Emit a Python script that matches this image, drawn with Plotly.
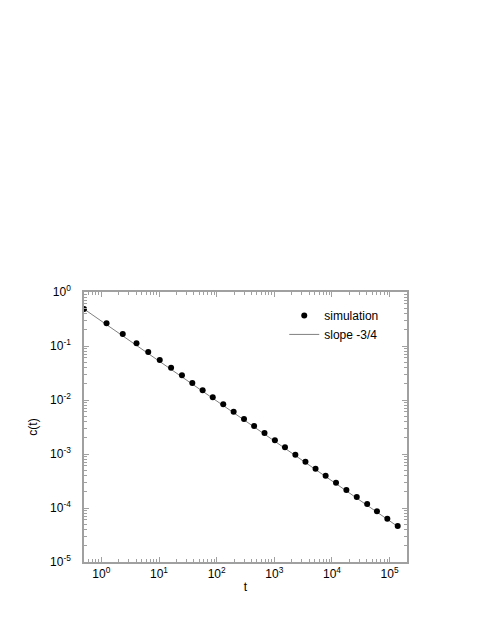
import plotly.graph_objects as go

# simulation data
sim_t = [0.5, 1.23, 2.35, 4.07, 6.5, 10.3, 16.2, 25.0, 37.8, 57.1, 85.5, 130,
         197, 298, 446, 676, 1023, 1531, 2317, 3467, 5188, 7762, 11750,
         17780, 26920, 40740, 60260, 91200, 138000]
sim_c = [0.484, 0.263, 0.167, 0.112, 0.0774, 0.0551, 0.0396, 0.0286, 0.0207,
         0.0151, 0.0112, 0.00832, 0.00607, 0.00445, 0.00330, 0.00245, 0.00179,
         0.00133, 0.000970, 0.000719, 0.000535, 0.000396, 0.000294, 0.000215,
         0.000160, 0.000119, 0.0000869, 0.0000634, 0.0000465]

# slope -3/4 reference line endpoints
line_t = [0.5, 142000]
line_c = [0.484, 0.0000445]

# tick labels
x_tickvals = [1, 10, 100, 1000, 10000, 100000]
x_ticktext = ["10<sup>0</sup>", "10<sup>1</sup>", "10<sup>2</sup>",
              "10<sup>3</sup>", "10<sup>4</sup>", "10<sup>5</sup>"]
y_tickvals = [1, 0.1, 0.01, 0.001, 0.0001, 0.00001]
y_ticktext = ["10<sup>0</sup>", "10<sup>-1</sup>", "10<sup>-2</sup>",
              "10<sup>-3</sup>", "10<sup>-4</sup>", "10<sup>-5</sup>"]

FONT = "Liberation Sans, Arial, sans-serif"
AXIS_COLOR = "#a0a0a0"

fig = go.Figure()
fig.add_trace(go.Scatter(x=line_t, y=line_c, mode="lines", name="slope -3/4",
                         line=dict(color="#808080", width=1)))
fig.add_trace(go.Scatter(x=sim_t, y=sim_c, mode="markers", name="simulation",
                         marker=dict(color="black", size=6)))

axis_common = dict(
    type="log", showgrid=False, zeroline=False, automargin=False,
    showline=True, linecolor=AXIS_COLOR, linewidth=1.5, mirror="allticks",
    ticks="inside", ticklen=5, tickcolor=AXIS_COLOR, tickwidth=1,
    minor=dict(ticks="inside", ticklen=3, tickcolor=AXIS_COLOR, showgrid=False,
               dtick="D1"),
    tickfont=dict(family=FONT, size=12, color="black"),
)

fig.update_layout(
    width=491, height=635,
    margin=dict(l=76, r=92, t=284, b=81),
    plot_bgcolor="white", paper_bgcolor="white",
    font=dict(family=FONT, size=12, color="black"),
    showlegend=True,
    legend=dict(x=0.62, y=0.967, xanchor="left", yanchor="top",
                bgcolor="rgba(0,0,0,0)", font=dict(family=FONT, size=12),
                traceorder="reversed"),
    xaxis=dict(axis_common, range=[-0.30103, 5.30103],
               tickmode="array", tickvals=x_tickvals, ticktext=x_ticktext,
               title=dict(text="t", font=dict(family=FONT, size=12), standoff=2)),
    yaxis=dict(axis_common, range=[-5, 0], ticklabelstandoff=9,
               tickmode="array", tickvals=y_tickvals, ticktext=y_ticktext,
               title=dict(text="c(t)", font=dict(family=FONT, size=12), standoff=10)),
)

fig.write_html("out.html")
